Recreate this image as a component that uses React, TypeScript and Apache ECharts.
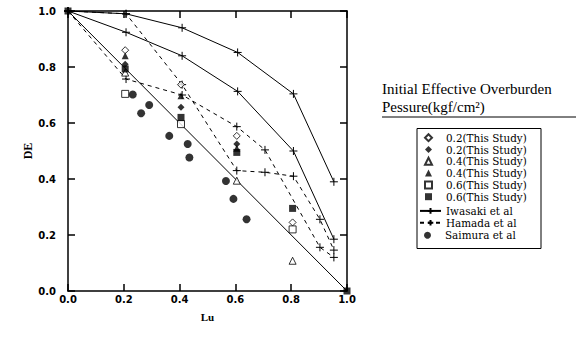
import React, { useEffect, useRef } from "react";
import * as echarts from "echarts";

const openDiamond02 = [[0.205, 0.86], [0.405, 0.737], [0.605, 0.554], [0.805, 0.245]];
const filledDiamond02 = [[0.205, 0.81], [0.405, 0.656], [0.605, 0.525]];
const openTriangle04 = [[0.205, 0.78], [0.605, 0.394], [0.805, 0.108]];
const filledTriangle04 = [[0.205, 0.84], [0.405, 0.697], [0.605, 0.51]];
const openSquare06 = [[0.205, 0.704], [0.405, 0.596], [0.805, 0.22]];
const filledSquare06 = [[0, 1], [0.205, 0.793], [0.405, 0.62], [0.605, 0.495], [0.805, 0.295], [1, 0]];
const iwasakiUpper = [[0, 1], [0.208, 0.99], [0.409, 0.94], [0.608, 0.852], [0.808, 0.704], [0.953, 0.39]];
const iwasakiLower = [[0, 1], [0.208, 0.924], [0.409, 0.84], [0.608, 0.713], [0.808, 0.5], [0.953, 0.185]];
const hamadaUpper = [[0, 1], [0.208, 0.99], [0.409, 0.737], [0.605, 0.43], [0.706, 0.424], [0.808, 0.41], [0.903, 0.256], [0.953, 0.146]];
const hamadaLower = [[0, 1], [0.208, 0.757], [0.409, 0.7], [0.605, 0.587], [0.706, 0.504], [0.903, 0.156], [0.953, 0.12]];
const saimura = [[0.232, 0.702], [0.262, 0.635], [0.291, 0.664], [0.363, 0.554], [0.429, 0.525], [0.435, 0.477], [0.566, 0.393], [0.593, 0.329], [0.64, 0.256]];
const referenceLine = [[0, 1], [1, 0]];

const studyNames = [
  "0.2(This Study)",
  "0.2(This Study) ",
  "0.4(This Study)",
  "0.4(This Study) ",
  "0.6(This Study)",
  "0.6(This Study) ",
];
const lineNames = ["Iwasaki et al", "Hamada et al"];
const circleNames = ["Saimura et al"];

const titleLine1 = "Initial Effective Overburden";
const titleLine2 = "Pessure(kgf/cm²)";

const PLUS = "path://M0,5L10,5M5,0L5,10";
const hollow = { color: "#fff", borderColor: "#000", borderWidth: 1 };
const filled = { color: "#000", borderColor: "#000", borderWidth: 0 };

const ROWH = 12.2;
const ROW0 = 186.7 - 4 * ROWH;
const FONT = 10.4;

function axisCommon(showLabel: boolean) {
  return {
    type: "value",
    min: 0,
    max: 1,
    interval: 0.2,
    axisLine: { show: true, onZero: false, lineStyle: { color: "#000", width: 1.5 } },
    axisTick: { show: true, inside: true, length: 7, lineStyle: { color: "#000", width: 1.5 } },
    axisLabel: showLabel
      ? {
          show: true,
          formatter: (v: number) => v.toFixed(1),
          color: "#000",
          fontFamily: "DejaVu Sans",
          fontWeight: "bold",
          fontSize: 10,
        }
      : { show: false },
    splitLine: { show: false },
  };
}

function legendBlock(names: string[], firstRow: number, left: number, iconW: number, textPad: number) {
  return {
    orient: "vertical",
    left,
    top: ROW0 + firstRow * ROWH - FONT / 2,
    itemGap: ROWH - FONT,
    itemWidth: iconW,
    itemHeight: 7,
    padding: 0,
    selectedMode: false,
    textStyle: { fontFamily: "DejaVu Serif", fontSize: FONT, color: "#000", padding: [0, 0, 0, textPad] },
    formatter: (n: string) => n.trim(),
    data: names,
  };
}

export default function App() {
  const ref = useRef<HTMLDivElement>(null);
  useEffect(() => {
    document.body.style.margin = "0";
    const chart = echarts.init(ref.current!, null, { renderer: "svg" });
    const scatter = (name: string, data: number[][], symbol: string, size: number, style: any) => ({
      type: "scatter",
      name,
      data,
      symbol,
      symbolSize: size,
      itemStyle: style,
      z: 5,
    });
    const line = (name: string, data: number[][], dashed: boolean) => ({
      type: "line",
      name,
      data,
      symbol: PLUS,
      symbolSize: 8,
      showSymbol: true,
      itemStyle: { color: "#000", borderColor: "#000", borderWidth: 1 },
      lineStyle: { color: "#000", width: 1, type: dashed ? [4, 4] : "solid" },
      z: 3,
    });
    const option: any = {
      animation: false,
      backgroundColor: "#fff",
      grid: { left: 68, right: 229, top: 11, bottom: 51 },
      xAxis: [
        {
          ...axisCommon(true),
          position: "bottom",
          axisLabel: { ...axisCommon(true).axisLabel, margin: 3 },
          name: "Lu",
          nameLocation: "middle",
          nameGap: 20,
          nameTextStyle: { fontFamily: "Liberation Serif", fontWeight: "bold", fontSize: 11, color: "#000" },
        },
        { ...axisCommon(false), position: "top" },
      ],
      yAxis: [
        {
          ...axisCommon(true),
          position: "left",
          axisLabel: { ...axisCommon(true).axisLabel, margin: 12 },
          name: "DE",
          nameLocation: "middle",
          nameGap: 34,
          nameTextStyle: { fontFamily: "Liberation Serif", fontWeight: "bold", fontSize: 12, color: "#000" },
        },
        { ...axisCommon(false), position: "right" },
      ],
      legend: [
        legendBlock(studyNames, 0, 424, 7, 9),
        legendBlock(lineNames, 6, 419, 21, 0),
        legendBlock(circleNames, 8, 424, 7, 9),
      ],
      graphic: [
        { type: "rect", shape: { x: 417, y: 128.5, width: 124, height: 120 }, style: { fill: "none", stroke: "#000", lineWidth: 1 }, z: 10 },
        { type: "text", left: 382, top: 81, style: { text: titleLine1, font: '15px "Liberation Serif"', fill: "#000" } },
        { type: "text", left: 382, top: 99, style: { text: titleLine2, font: '15px "Liberation Serif"', fill: "#000" } },
        { type: "line", shape: { x1: 382, y1: 117, x2: 576, y2: 117 }, style: { stroke: "#000", lineWidth: 1 } },
      ],
      series: [
        {
          type: "line",
          name: "1-Lu",
          data: referenceLine,
          symbol: "none",
          lineStyle: { color: "#000", width: 1 },
          z: 2,
        },
        line(lineNames[0], iwasakiUpper, false),
        line(lineNames[0], iwasakiLower, false),
        line(lineNames[1], hamadaUpper, true),
        line(lineNames[1], hamadaLower, true),
        scatter(studyNames[0], openDiamond02, "diamond", 7, hollow),
        scatter(studyNames[1], filledDiamond02, "diamond", 7, filled),
        scatter(studyNames[2], openTriangle04, "triangle", 7, hollow),
        scatter(studyNames[3], filledTriangle04, "triangle", 7, filled),
        scatter(studyNames[4], openSquare06, "rect", 7, hollow),
        scatter(studyNames[5], filledSquare06, "rect", 7, filled),
        scatter(circleNames[0], saimura, "circle", 8, filled),
      ],
    };
    chart.setOption(option);
    return () => chart.dispose();
  }, []);
  return <div ref={ref} style={{ width: 576, height: 342 }} />;
}
